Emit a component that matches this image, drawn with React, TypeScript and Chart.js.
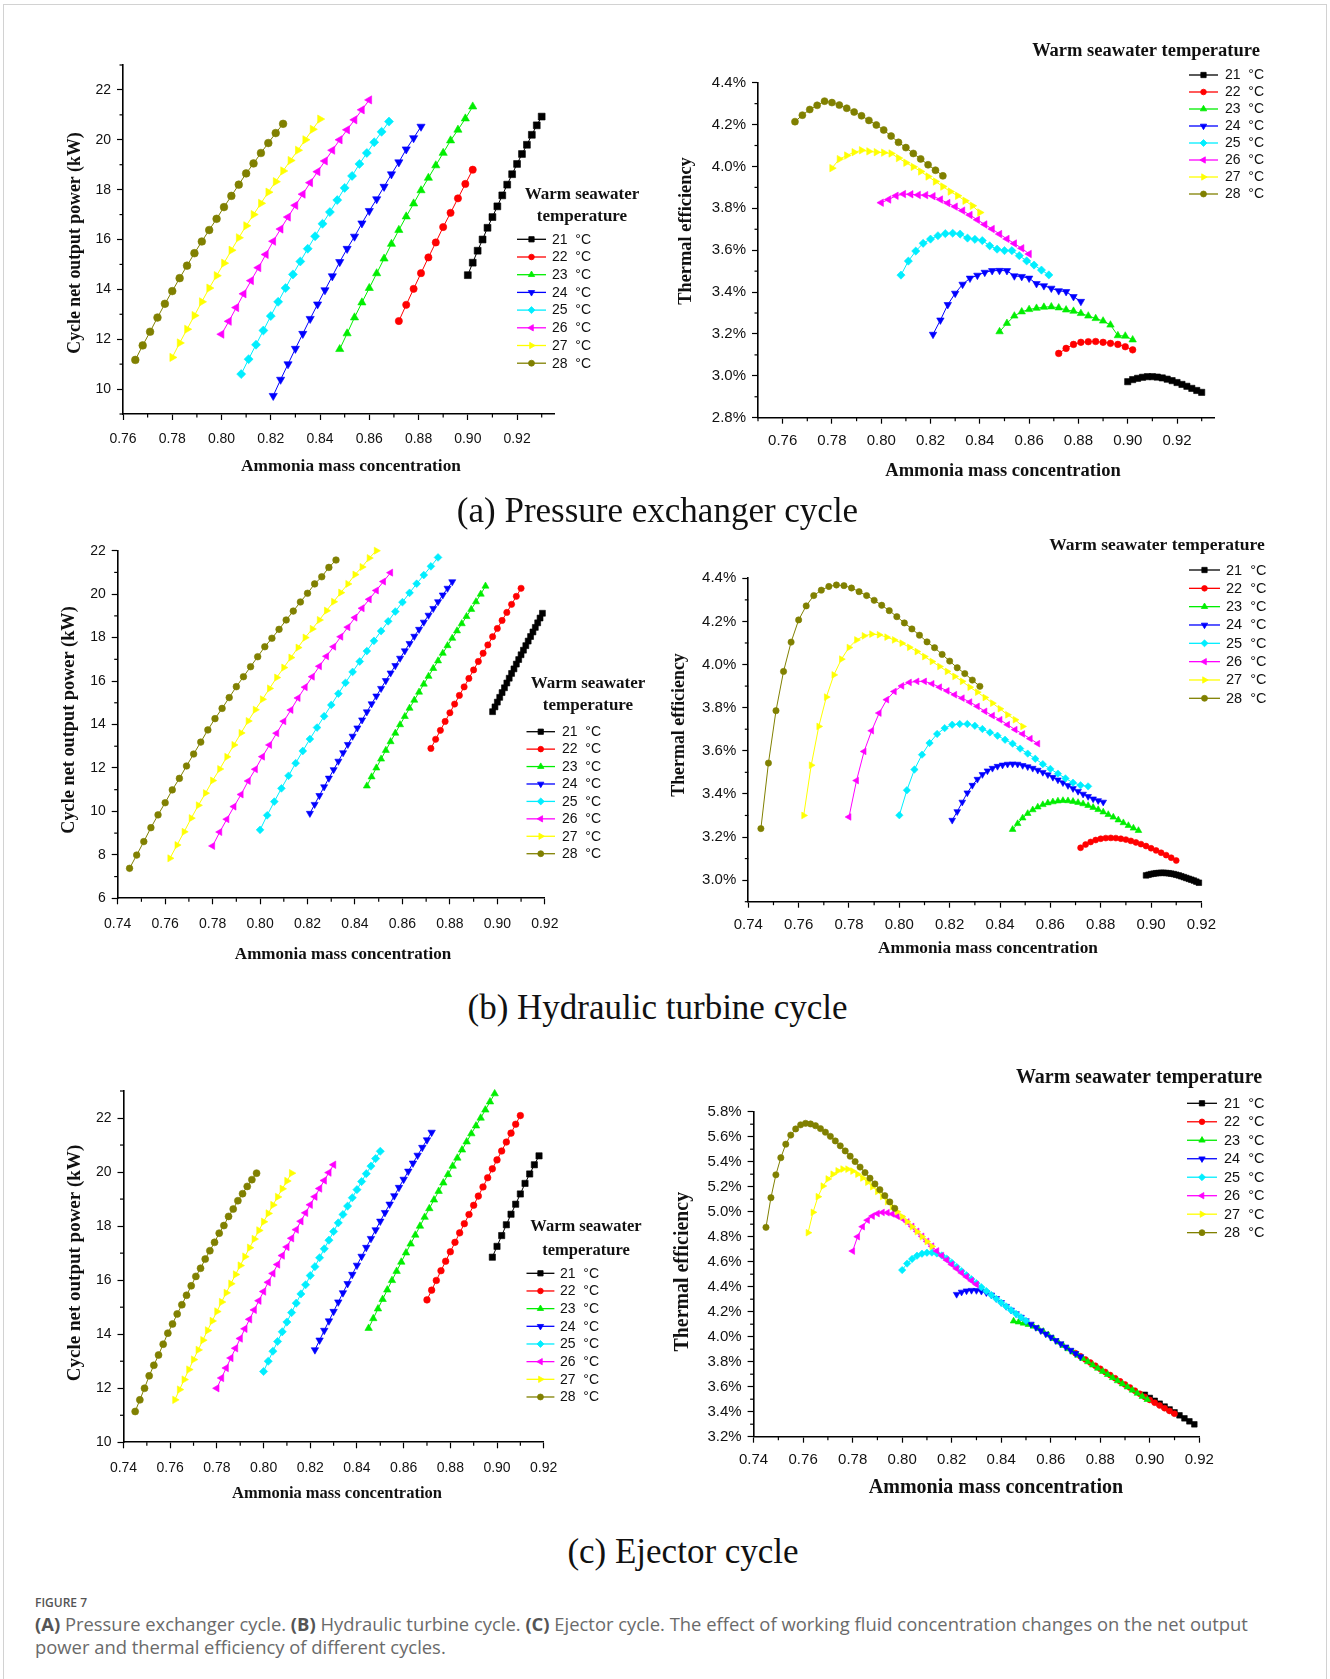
import React, { useEffect, useRef } from 'react';
import { Chart, registerables } from 'chart.js';

Chart.register(...registerables);

// ===================== DATA =====================
const TEMPS = ['21', '22', '23', '24', '25', '26', '27', '28'];

// ---- (a) Pressure exchanger cycle ----
const aX21 = [0.900, 0.902, 0.904, 0.906, 0.908, 0.910, 0.912, 0.914, 0.916, 0.918, 0.920, 0.922, 0.924, 0.926, 0.928, 0.930];
const aX22 = [0.872, 0.875, 0.878, 0.881, 0.884, 0.887, 0.890, 0.893, 0.896, 0.899, 0.902];
const aX23 = [0.848, 0.851, 0.854, 0.857, 0.860, 0.863, 0.866, 0.869, 0.872, 0.875, 0.878, 0.881, 0.884, 0.887, 0.890, 0.893, 0.896, 0.899, 0.902];
const aX24 = [0.821, 0.824, 0.827, 0.830, 0.833, 0.836, 0.839, 0.842, 0.845, 0.848, 0.851, 0.854, 0.857, 0.860, 0.863, 0.866, 0.869, 0.872, 0.875, 0.878, 0.881];
const aX25 = [0.808, 0.811, 0.814, 0.817, 0.820, 0.823, 0.826, 0.829, 0.832, 0.835, 0.838, 0.841, 0.844, 0.847, 0.850, 0.853, 0.856, 0.859, 0.862, 0.865, 0.868];
const aX26 = [0.800, 0.803, 0.806, 0.809, 0.812, 0.815, 0.818, 0.821, 0.824, 0.827, 0.830, 0.833, 0.836, 0.839, 0.842, 0.845, 0.848, 0.851, 0.854, 0.857, 0.860];
const aX27 = [0.780, 0.783, 0.786, 0.789, 0.792, 0.795, 0.798, 0.801, 0.804, 0.807, 0.810, 0.813, 0.816, 0.819, 0.822, 0.825, 0.828, 0.831, 0.834, 0.837, 0.840];
const aX28 = [0.765, 0.768, 0.771, 0.774, 0.777, 0.780, 0.783, 0.786, 0.789, 0.792, 0.795, 0.798, 0.801, 0.804, 0.807, 0.810, 0.813, 0.816, 0.819, 0.822, 0.825];

const aP21 = [14.57, 15.07, 15.55, 16.00, 16.47, 16.90, 17.33, 17.77, 18.20, 18.62, 19.03, 19.43, 19.80, 20.20, 20.58, 20.93];
const aP22 = [12.73, 13.38, 14.02, 14.65, 15.28, 15.88, 16.50, 17.07, 17.65, 18.23, 18.80];
const aP23 = [11.60, 12.23, 12.87, 13.47, 14.05, 14.64, 15.23, 15.82, 16.38, 16.92, 17.44, 17.97, 18.47, 18.97, 19.47, 19.97, 20.40, 20.85, 21.33];
const aP24 = [9.73, 10.38, 11.00, 11.62, 12.22, 12.82, 13.40, 13.97, 14.53, 15.10, 15.63, 16.12, 16.65, 17.15, 17.62, 18.12, 18.62, 19.10, 19.62, 20.07, 20.53];
const aP25 = [10.60, 11.20, 11.78, 12.35, 12.93, 13.50, 14.05, 14.60, 15.12, 15.63, 16.13, 16.63, 17.10, 17.58, 18.07, 18.55, 19.03, 19.47, 19.90, 20.32, 20.73];
const aP26 = [12.20, 12.72, 13.27, 13.82, 14.35, 14.87, 15.40, 15.93, 16.42, 16.90, 17.37, 17.82, 18.28, 18.72, 19.15, 19.58, 20.00, 20.40, 20.80, 21.20, 21.60];
const aP27 = [11.27, 11.85, 12.40, 12.95, 13.50, 14.05, 14.55, 15.05, 15.57, 16.07, 16.55, 17.00, 17.45, 17.90, 18.32, 18.75, 19.17, 19.58, 20.00, 20.42, 20.83];
const aP28 = [11.17, 11.75, 12.30, 12.87, 13.42, 13.93, 14.45, 14.95, 15.45, 15.92, 16.38, 16.83, 17.30, 17.75, 18.20, 18.65, 19.05, 19.47, 19.87, 20.27, 20.64];

const aE21 = [2.972, 2.982, 2.988, 2.993, 2.996, 2.996, 2.994, 2.990, 2.984, 2.977, 2.968, 2.959, 2.950, 2.940, 2.930, 2.921];
const aE22 = [3.107, 3.131, 3.150, 3.160, 3.163, 3.164, 3.160, 3.155, 3.150, 3.139, 3.124];
const aE23 = [3.211, 3.251, 3.286, 3.306, 3.317, 3.323, 3.328, 3.330, 3.325, 3.315, 3.309, 3.298, 3.286, 3.274, 3.262, 3.243, 3.192, 3.190, 3.172];
const aE24 = [3.198, 3.266, 3.340, 3.394, 3.437, 3.466, 3.480, 3.494, 3.502, 3.503, 3.502, 3.477, 3.474, 3.466, 3.440, 3.430, 3.418, 3.406, 3.402, 3.378, 3.355];
const aE25 = [3.481, 3.548, 3.596, 3.633, 3.653, 3.669, 3.679, 3.681, 3.677, 3.658, 3.652, 3.646, 3.621, 3.605, 3.598, 3.598, 3.574, 3.549, 3.529, 3.505, 3.482];
const aE26 = [3.827, 3.842, 3.860, 3.868, 3.867, 3.864, 3.863, 3.858, 3.842, 3.825, 3.808, 3.789, 3.768, 3.745, 3.723, 3.701, 3.677, 3.654, 3.632, 3.609, 3.582];
const aE27 = [3.992, 4.035, 4.052, 4.068, 4.077, 4.072, 4.068, 4.066, 4.062, 4.040, 4.018, 3.998, 3.976, 3.952, 3.928, 3.904, 3.880, 3.860, 3.836, 3.812, 3.780];
const aE28 = [4.214, 4.245, 4.272, 4.292, 4.312, 4.305, 4.293, 4.278, 4.260, 4.242, 4.220, 4.198, 4.174, 4.145, 4.115, 4.090, 4.062, 4.036, 4.008, 3.982, 3.955];

// ---- (b) Hydraulic turbine cycle ----
const bX21 = [0.898, 0.899, 0.900, 0.901, 0.902, 0.903, 0.904, 0.905, 0.906, 0.907, 0.908, 0.909, 0.910, 0.911, 0.912, 0.913, 0.914, 0.915, 0.916, 0.917, 0.918, 0.919];
const bX22 = [0.872, 0.874, 0.876, 0.878, 0.880, 0.882, 0.884, 0.886, 0.888, 0.890, 0.892, 0.894, 0.896, 0.898, 0.900, 0.902, 0.904, 0.906, 0.908, 0.910];
const bX23 = [0.845, 0.847, 0.849, 0.851, 0.853, 0.855, 0.857, 0.859, 0.861, 0.863, 0.865, 0.867, 0.869, 0.871, 0.873, 0.875, 0.877, 0.879, 0.881, 0.883, 0.885, 0.887, 0.889, 0.891, 0.893, 0.895];
const bX24 = [0.821, 0.823, 0.825, 0.827, 0.829, 0.831, 0.833, 0.835, 0.837, 0.839, 0.841, 0.843, 0.845, 0.847, 0.849, 0.851, 0.853, 0.855, 0.857, 0.859, 0.861, 0.863, 0.865, 0.867, 0.869, 0.871, 0.873, 0.875, 0.877, 0.879, 0.881];
const bX25 = [0.800, 0.803, 0.806, 0.809, 0.812, 0.815, 0.818, 0.821, 0.824, 0.827, 0.830, 0.833, 0.836, 0.839, 0.842, 0.845, 0.848, 0.851, 0.854, 0.857, 0.860, 0.863, 0.866, 0.869, 0.872, 0.875];
const bX26 = [0.780, 0.783, 0.786, 0.789, 0.792, 0.795, 0.798, 0.801, 0.804, 0.807, 0.810, 0.813, 0.816, 0.819, 0.822, 0.825, 0.828, 0.831, 0.834, 0.837, 0.840, 0.843, 0.846, 0.849, 0.852, 0.855];
const bX27 = [0.762, 0.765, 0.768, 0.771, 0.774, 0.777, 0.780, 0.783, 0.786, 0.789, 0.792, 0.795, 0.798, 0.801, 0.804, 0.807, 0.810, 0.813, 0.816, 0.819, 0.822, 0.825, 0.828, 0.831, 0.834, 0.837, 0.840, 0.843, 0.846, 0.849];
const bX28 = [0.745, 0.748, 0.751, 0.754, 0.757, 0.760, 0.763, 0.766, 0.769, 0.772, 0.775, 0.778, 0.781, 0.784, 0.787, 0.790, 0.793, 0.796, 0.799, 0.802, 0.805, 0.808, 0.811, 0.814, 0.817, 0.820, 0.823, 0.826, 0.829, 0.832];

const bP21 = [14.59, 14.81, 15.03, 15.25, 15.47, 15.69, 15.91, 16.13, 16.35, 16.56, 16.78, 16.99, 17.21, 17.42, 17.63, 17.84, 18.05, 18.26, 18.47, 18.68, 18.90, 19.12];
const bP22 = [12.90, 13.32, 13.73, 14.14, 14.54, 14.94, 15.34, 15.73, 16.12, 16.51, 16.90, 17.28, 17.66, 18.04, 18.42, 18.79, 19.16, 19.53, 19.90, 20.27];
const bP23 = [11.17, 11.59, 12.00, 12.41, 12.81, 13.21, 13.60, 13.99, 14.37, 14.75, 15.12, 15.49, 15.86, 16.22, 16.58, 16.93, 17.28, 17.63, 17.97, 18.31, 18.64, 18.97, 19.30, 19.65, 20.00, 20.37];
const bP24 = [9.91, 10.32, 10.73, 11.13, 11.53, 11.92, 12.31, 12.70, 13.08, 13.46, 13.84, 14.21, 14.58, 14.95, 15.31, 15.66, 16.02, 16.37, 16.71, 17.05, 17.39, 17.73, 18.06, 18.38, 18.71, 19.03, 19.34, 19.65, 19.96, 20.27, 20.57];
const bP25 = [9.15, 9.82, 10.45, 11.06, 11.64, 12.22, 12.78, 13.33, 13.86, 14.38, 14.90, 15.42, 15.92, 16.42, 16.90, 17.38, 17.85, 18.30, 18.75, 19.20, 19.63, 20.06, 20.48, 20.88, 21.28, 21.69];
const bP26 = [8.41, 9.05, 9.64, 10.22, 10.78, 11.40, 11.94, 12.52, 13.06, 13.60, 14.15, 14.67, 15.22, 15.72, 16.20, 16.68, 17.14, 17.58, 18.04, 18.48, 18.92, 19.35, 19.76, 20.17, 20.58, 20.99];
const bP27 = [7.84, 8.45, 9.06, 9.69, 10.28, 10.84, 11.42, 11.95, 12.51, 13.06, 13.61, 14.16, 14.68, 15.16, 15.66, 16.16, 16.62, 17.08, 17.54, 18.00, 18.40, 18.81, 19.24, 19.65, 20.07, 20.47, 20.90, 21.25, 21.66, 22.00];
const bP28 = [7.38, 7.99, 8.61, 9.25, 9.84, 10.40, 10.99, 11.52, 12.09, 12.64, 13.19, 13.75, 14.27, 14.74, 15.24, 15.74, 16.20, 16.66, 17.12, 17.58, 17.97, 18.38, 18.81, 19.22, 19.64, 20.04, 20.47, 20.80, 21.23, 21.57];

const bE21 = [3.022, 3.025, 3.028, 3.030, 3.032, 3.033, 3.034, 3.034, 3.033, 3.032, 3.030, 3.028, 3.025, 3.022, 3.018, 3.014, 3.010, 3.006, 3.002, 2.998, 2.993, 2.988];
const bE22 = [3.150, 3.165, 3.177, 3.186, 3.192, 3.195, 3.196, 3.195, 3.192, 3.188, 3.182, 3.175, 3.167, 3.158, 3.148, 3.138, 3.127, 3.116, 3.104, 3.091];
const bE23 = [3.235, 3.262, 3.288, 3.309, 3.326, 3.339, 3.350, 3.358, 3.363, 3.367, 3.369, 3.368, 3.365, 3.360, 3.354, 3.346, 3.337, 3.327, 3.316, 3.304, 3.292, 3.279, 3.266, 3.253, 3.241, 3.230];
const bE24 = [3.278, 3.318, 3.362, 3.405, 3.440, 3.468, 3.490, 3.507, 3.519, 3.528, 3.534, 3.538, 3.539, 3.538, 3.532, 3.526, 3.519, 3.510, 3.500, 3.489, 3.477, 3.465, 3.452, 3.439, 3.425, 3.412, 3.399, 3.388, 3.377, 3.369, 3.362];
const bE25 = [3.301, 3.417, 3.513, 3.582, 3.636, 3.678, 3.705, 3.721, 3.724, 3.724, 3.716, 3.701, 3.685, 3.670, 3.651, 3.633, 3.610, 3.587, 3.563, 3.538, 3.516, 3.494, 3.472, 3.452, 3.440, 3.435];
const bE26 = [3.293, 3.462, 3.597, 3.693, 3.775, 3.837, 3.875, 3.901, 3.917, 3.922, 3.922, 3.911, 3.895, 3.878, 3.860, 3.844, 3.826, 3.806, 3.783, 3.763, 3.744, 3.721, 3.698, 3.678, 3.656, 3.633];
const bE27 = [3.300, 3.533, 3.713, 3.849, 3.952, 4.025, 4.079, 4.114, 4.133, 4.141, 4.138, 4.127, 4.114, 4.099, 4.080, 4.060, 4.037, 4.014, 3.991, 3.968, 3.945, 3.922, 3.895, 3.872, 3.847, 3.821, 3.795, 3.767, 3.744, 3.713];
const bE28 = [3.239, 3.543, 3.786, 3.968, 4.104, 4.207, 4.272, 4.320, 4.345, 4.362, 4.369, 4.366, 4.355, 4.338, 4.320, 4.298, 4.275, 4.250, 4.222, 4.193, 4.165, 4.136, 4.105, 4.078, 4.047, 4.016, 3.985, 3.958, 3.928, 3.899];

// ---- (c) Ejector cycle ----
const cX21 = [0.898, 0.900, 0.902, 0.904, 0.906, 0.908, 0.910, 0.912, 0.914, 0.916, 0.918];
const cX22 = [0.870, 0.872, 0.874, 0.876, 0.878, 0.880, 0.882, 0.884, 0.886, 0.888, 0.890, 0.892, 0.894, 0.896, 0.898, 0.900, 0.902, 0.904, 0.906, 0.908, 0.910];
const cX23 = [0.845, 0.847, 0.849, 0.851, 0.853, 0.855, 0.857, 0.859, 0.861, 0.863, 0.865, 0.867, 0.869, 0.871, 0.873, 0.875, 0.877, 0.879, 0.881, 0.883, 0.885, 0.887, 0.889, 0.891, 0.893, 0.895, 0.897, 0.899];
const cX24 = [0.822, 0.824, 0.826, 0.828, 0.830, 0.832, 0.834, 0.836, 0.838, 0.840, 0.842, 0.844, 0.846, 0.848, 0.850, 0.852, 0.854, 0.856, 0.858, 0.860, 0.862, 0.864, 0.866, 0.868, 0.870, 0.872];
const cX25 = [0.800, 0.802, 0.804, 0.806, 0.808, 0.810, 0.812, 0.814, 0.816, 0.818, 0.820, 0.822, 0.824, 0.826, 0.828, 0.830, 0.832, 0.834, 0.836, 0.838, 0.840, 0.842, 0.844, 0.846, 0.848, 0.850];
const cX26 = [0.780, 0.782, 0.784, 0.786, 0.788, 0.790, 0.792, 0.794, 0.796, 0.798, 0.800, 0.802, 0.804, 0.806, 0.808, 0.810, 0.812, 0.814, 0.816, 0.818, 0.820, 0.822, 0.824, 0.826, 0.828, 0.830];
const cX27 = [0.762, 0.764, 0.766, 0.768, 0.770, 0.772, 0.774, 0.776, 0.778, 0.780, 0.782, 0.784, 0.786, 0.788, 0.790, 0.792, 0.794, 0.796, 0.798, 0.800, 0.802, 0.804, 0.806, 0.808, 0.810, 0.812];
const cX28 = [0.745, 0.747, 0.749, 0.751, 0.753, 0.755, 0.757, 0.759, 0.761, 0.763, 0.765, 0.767, 0.769, 0.771, 0.773, 0.775, 0.777, 0.779, 0.781, 0.783, 0.785, 0.787, 0.789, 0.791, 0.793, 0.795, 0.797];

const cP21 = [16.85, 17.25, 17.65, 18.05, 18.44, 18.81, 19.19, 19.58, 19.93, 20.27, 20.60];
const cP22 = [15.27, 15.63, 15.99, 16.35, 16.70, 17.05, 17.40, 17.75, 18.09, 18.43, 18.77, 19.11, 19.45, 19.79, 20.12, 20.45, 20.78, 21.11, 21.44, 21.77, 22.09];
const cP23 = [14.22, 14.58, 14.94, 15.29, 15.64, 15.99, 16.33, 16.67, 17.01, 17.34, 17.67, 18.00, 18.33, 18.65, 18.97, 19.29, 19.60, 19.91, 20.22, 20.52, 20.82, 21.12, 21.42, 21.71, 22.00, 22.30, 22.60, 22.90];
const cP24 = [13.42, 13.78, 14.14, 14.49, 14.84, 15.19, 15.53, 15.87, 16.21, 16.55, 16.88, 17.21, 17.54, 17.86, 18.18, 18.50, 18.81, 19.12, 19.43, 19.73, 20.03, 20.33, 20.62, 20.91, 21.19, 21.47];
const cP25 = [12.62, 13.00, 13.37, 13.73, 14.09, 14.45, 14.80, 15.15, 15.49, 15.83, 16.17, 16.50, 16.83, 17.16, 17.48, 17.80, 18.12, 18.43, 18.74, 19.05, 19.35, 19.65, 19.94, 20.22, 20.50, 20.77];
const cP26 = [12.00, 12.38, 12.75, 13.12, 13.48, 13.84, 14.20, 14.55, 14.90, 15.24, 15.58, 15.92, 16.25, 16.58, 16.91, 17.23, 17.55, 17.87, 18.18, 18.49, 18.79, 19.09, 19.39, 19.69, 19.98, 20.27];
const cP27 = [11.57, 11.95, 12.32, 12.69, 13.06, 13.42, 13.78, 14.14, 14.49, 14.84, 15.19, 15.53, 15.87, 16.21, 16.54, 16.87, 17.20, 17.52, 17.84, 18.16, 18.47, 18.78, 19.08, 19.38, 19.67, 19.96];
const cP28 = [11.14, 11.57, 12.00, 12.46, 12.85, 13.23, 13.63, 14.04, 14.38, 14.75, 15.09, 15.44, 15.79, 16.14, 16.44, 16.78, 17.09, 17.40, 17.74, 18.02, 18.36, 18.63, 18.94, 19.20, 19.47, 19.72, 19.96];

const cE21 = [3.535, 3.510, 3.487, 3.464, 3.441, 3.418, 3.395, 3.371, 3.347, 3.323, 3.299];
const cE22 = [3.868, 3.843, 3.818, 3.793, 3.768, 3.743, 3.718, 3.693, 3.668, 3.643, 3.618, 3.593, 3.568, 3.543, 3.518, 3.494, 3.472, 3.450, 3.428, 3.406, 3.384];
const cE23 = [4.125, 4.117, 4.108, 4.097, 4.083, 4.065, 4.042, 4.015, 3.985, 3.957, 3.930, 3.903, 3.877, 3.851, 3.825, 3.799, 3.773, 3.747, 3.722, 3.697, 3.672, 3.647, 3.622, 3.597, 3.572, 3.547, 3.522, 3.497];
const cE24 = [4.339, 4.357, 4.367, 4.371, 4.370, 4.364, 4.352, 4.334, 4.306, 4.274, 4.243, 4.213, 4.184, 4.156, 4.128, 4.101, 4.074, 4.048, 4.022, 3.996, 3.970, 3.944, 3.918, 3.892, 3.866, 3.840];
const cE25 = [4.533, 4.585, 4.622, 4.648, 4.664, 4.672, 4.673, 4.666, 4.650, 4.625, 4.593, 4.559, 4.525, 4.492, 4.460, 4.428, 4.396, 4.365, 4.334, 4.303, 4.272, 4.242, 4.212, 4.183, 4.155, 4.127];
const cE26 = [4.685, 4.800, 4.880, 4.932, 4.965, 4.985, 4.994, 4.992, 4.982, 4.965, 4.945, 4.918, 4.882, 4.843, 4.803, 4.763, 4.724, 4.686, 4.649, 4.613, 4.578, 4.544, 4.511, 4.479, 4.448, 4.418];
const cE27 = [4.832, 4.995, 5.120, 5.205, 5.262, 5.300, 5.327, 5.341, 5.340, 5.325, 5.300, 5.270, 5.236, 5.200, 5.162, 5.122, 5.080, 5.040, 5.000, 4.960, 4.920, 4.880, 4.840, 4.800, 4.761, 4.722];
const cE28 = [4.875, 5.112, 5.295, 5.432, 5.540, 5.613, 5.662, 5.695, 5.707, 5.702, 5.688, 5.665, 5.636, 5.603, 5.566, 5.527, 5.486, 5.444, 5.401, 5.357, 5.313, 5.268, 5.222, 5.176, 5.128, 5.078, 5.027];

// ---- tick values ----
const aXTicks = [0.76, 0.78, 0.80, 0.82, 0.84, 0.86, 0.88, 0.90, 0.92];
const bcXTicks = [0.74, 0.76, 0.78, 0.80, 0.82, 0.84, 0.86, 0.88, 0.90, 0.92];
const aPowerYTicks = [10, 12, 14, 16, 18, 20, 22];
const aEffYTicks = [2.8, 3.0, 3.2, 3.4, 3.6, 3.8, 4.0, 4.2, 4.4];
const bPowerYTicks = [6, 8, 10, 12, 14, 16, 18, 20, 22];
const bEffYTicks = [3.0, 3.2, 3.4, 3.6, 3.8, 4.0, 4.2, 4.4];
const cPowerYTicks = [10, 12, 14, 16, 18, 20, 22];
const cEffYTicks = [3.2, 3.4, 3.6, 3.8, 4.0, 4.2, 4.4, 4.6, 4.8, 5.0, 5.2, 5.4, 5.6, 5.8];

// ===================== STYLE =====================
const SANS = '"Liberation Sans", Arial, sans-serif';
const SERIF = '"Liberation Serif", "Times New Roman", serif';

const SERIES_STYLE = [
  { color: '#000000', style: 'rect', rot: 0, r: 4.4 },
  { color: '#ff0000', style: 'circle', rot: 0, r: 3.3 },
  { color: '#00ee00', style: 'triangle', rot: 0, r: 4.3 },
  { color: '#0000ff', style: 'triangle', rot: 180, r: 4.3 },
  { color: '#00eeff', style: 'rectRot', rot: 0, r: 4.1 },
  { color: '#ff00ff', style: 'triangle', rot: 270, r: 4.3 },
  { color: '#ffff00', style: 'triangle', rot: 90, r: 4.3 },
  { color: '#808000', style: 'circle', rot: 0, r: 3.5 },
];

const pct = (v: number) => v.toFixed(1) + '%';
const int = (v: number) => String(Math.round(v));
const fx2 = (v: number) => v.toFixed(2);

const PANELS: any[] = [
  {
    id: 'aL', box: { l: 20, t: 40, w: 660, h: 450 }, area: { x0: 123, y0: 65, x1: 554, y1: 414 },
    xMin: 0.76, xMax: 0.935, yMin: 9, yMax: 23, xTicks: aXTicks, yTicks: aPowerYTicks, xMinor: 0.01, yMinor: 1, yFmt: int,
    xs: [aX21, aX22, aX23, aX24, aX25, aX26, aX27, aX28], ys: [aP21, aP22, aP23, aP24, aP25, aP26, aP27, aP28],
    tickSize: 14, xPad: 11, xTitle: { text: 'Ammonia mass concentration', x: 351, y: 467, size: 17.3 },
    yTitle: { text: 'Cycle net output power (kW)', x: 75, y: 243, size: 17.8 },
    legTitle: { lines: ['Warm seawater', 'temperature'], x: 582, ys: [195, 217], size: 17 },
    leg: { y0: 239.3, dy: 17.7, lx0: 517, lx1: 546, tx: 552, size: 14 }, mk: 1.1,
  },
  {
    id: 'aR', box: { l: 640, t: 25, w: 685, h: 465 }, area: { x0: 758, y0: 82.7, x1: 1214, y1: 417.7 },
    xMin: 0.75, xMax: 0.935, yMin: 2.8, yMax: 4.4, xTicks: aXTicks, yTicks: aEffYTicks, xMinor: 0.01, yMinor: 0.1, yFmt: pct,
    xs: [aX21, aX22, aX23, aX24, aX25, aX26, aX27, aX28], ys: [aE21, aE22, aE23, aE24, aE25, aE26, aE27, aE28],
    tickSize: 15, xPad: 8, xTitle: { text: 'Ammonia mass concentration', x: 1003, y: 471.7, size: 18.5 },
    yTitle: { text: 'Thermal efficiency', x: 686.5, y: 231, size: 18.4 },
    legTitle: { lines: ['Warm seawater temperature'], x: 1146, ys: [51.7], size: 18.5 },
    leg: { y0: 75, dy: 17.0, lx0: 1189, lx1: 1218, tx: 1225, size: 14 }, mk: 1.0,
  },
  {
    id: 'bL', box: { l: 20, t: 530, w: 660, h: 450 }, area: { x0: 117.7, y0: 550.7, x1: 544.8, y1: 898.3 },
    xMin: 0.74, xMax: 0.92, yMin: 6, yMax: 22, xTicks: bcXTicks, yTicks: bPowerYTicks, xMinor: 0.01, yMinor: 1, yFmt: int,
    xs: [bX21, bX22, bX23, bX24, bX25, bX26, bX27, bX28], ys: [bP21, bP22, bP23, bP24, bP25, bP26, bP27, bP28],
    tickSize: 14, xPad: 11, xTitle: { text: 'Ammonia mass concentration', x: 343, y: 955, size: 17 },
    yTitle: { text: 'Cycle net output power (kW)', x: 69, y: 720, size: 18.3 },
    legTitle: { lines: ['Warm seawater', 'temperature'], x: 588, ys: [684, 705.7], size: 17 },
    leg: { y0: 731.7, dy: 17.43, lx0: 526.5, lx1: 555, tx: 562, size: 14 }, mk: 0.95,
  },
  {
    id: 'bR', box: { l: 640, t: 520, w: 685, h: 460 }, area: { x0: 748.3, y0: 578.3, x1: 1201.4, y1: 901.7 },
    xMin: 0.74, xMax: 0.92, yMin: 2.9, yMax: 4.4, xTicks: bcXTicks, yTicks: bEffYTicks, xMinor: 0.01, yMinor: 0.1, yFmt: pct,
    xs: [bX21, bX22, bX23, bX24, bX25, bX26, bX27, bX28], ys: [bE21, bE22, bE23, bE24, bE25, bE26, bE27, bE28],
    tickSize: 15, xPad: 8, xTitle: { text: 'Ammonia mass concentration', x: 988, y: 948.3, size: 17.3 },
    yTitle: { text: 'Thermal efficiency', x: 679, y: 725, size: 17.9 },
    legTitle: { lines: ['Warm seawater temperature'], x: 1157, ys: [545], size: 17.5 },
    leg: { y0: 570, dy: 18.33, lx0: 1189, lx1: 1220, tx: 1226, size: 14.5 }, mk: 0.9,
  },
  {
    id: 'cL', box: { l: 20, t: 1070, w: 660, h: 440 }, area: { x0: 123.5, y0: 1091, x1: 543.7, y1: 1442.3 },
    xMin: 0.74, xMax: 0.92, yMin: 10, yMax: 23, xTicks: bcXTicks, yTicks: cPowerYTicks, xMinor: 0.01, yMinor: 1, yFmt: int,
    xs: [cX21, cX22, cX23, cX24, cX25, cX26, cX27, cX28], ys: [cP21, cP22, cP23, cP24, cP25, cP26, cP27, cP28],
    tickSize: 14, xPad: 11, xTitle: { text: 'Ammonia mass concentration', x: 337, y: 1493.3, size: 16.5 },
    yTitle: { text: 'Cycle net output power (kW)', x: 75, y: 1263, size: 19 },
    legTitle: { lines: ['Warm seawater', 'temperature'], x: 586, ys: [1226.7, 1251], size: 16.5 },
    leg: { y0: 1273.3, dy: 17.67, lx0: 526.5, lx1: 554.4, tx: 560, size: 14 }, mk: 1.0,
  },
  {
    id: 'cR', box: { l: 640, t: 1060, w: 685, h: 450 }, area: { x0: 753.6, y0: 1111.7, x1: 1199.3, y1: 1436.7 },
    xMin: 0.74, xMax: 0.92, yMin: 3.2, yMax: 5.8, xTicks: bcXTicks, yTicks: cEffYTicks, xMinor: 0.01, yMinor: 0.1, yFmt: pct,
    xs: [cX21, cX22, cX23, cX24, cX25, cX26, cX27, cX28], ys: [cE21, cE22, cE23, cE24, cE25, cE26, cE27, cE28],
    tickSize: 15, xPad: 8, xTitle: { text: 'Ammonia mass concentration', x: 996, y: 1488.3, size: 20 },
    yTitle: { text: 'Thermal efficiency', x: 683, y: 1271.7, size: 19.9 },
    legTitle: { lines: ['Warm seawater temperature'], x: 1139, ys: [1077.7], size: 20 },
    leg: { y0: 1103.3, dy: 18.48, lx0: 1187, lx1: 1217, tx: 1224, size: 14.5 }, mk: 0.9,
  },
];

// ===================== DRAWING =====================
function drawMarker(ctx: CanvasRenderingContext2D, style: string, rotDeg: number, x: number, y: number, r: number) {
  ctx.beginPath();
  if (style === 'circle') {
    ctx.arc(x, y, r, 0, Math.PI * 2);
  } else if (style === 'rect') {
    const s = Math.SQRT1_2 * r;
    ctx.rect(x - s, y - s, 2 * s, 2 * s);
  } else if (style === 'rectRot') {
    ctx.moveTo(x - r, y); ctx.lineTo(x, y - r); ctx.lineTo(x + r, y); ctx.lineTo(x, y + r); ctx.closePath();
  } else {
    let a = (rotDeg * Math.PI) / 180;
    ctx.moveTo(x + Math.sin(a) * r, y - Math.cos(a) * r);
    a += (2 * Math.PI) / 3;
    ctx.lineTo(x + Math.sin(a) * r, y - Math.cos(a) * r);
    a += (2 * Math.PI) / 3;
    ctx.lineTo(x + Math.sin(a) * r, y - Math.cos(a) * r);
    ctx.closePath();
  }
  ctx.fill();
  ctx.stroke();
}

const overlayPlugin = {
  id: 'overlay',
  afterDraw(chart: any, _args: any, opts: any) {
    const p = opts.panel;
    if (!p) return;
    const ctx: CanvasRenderingContext2D = chart.ctx;
    const ox = p.box.l, oy = p.box.t;
    const xs = chart.scales.x, ys = chart.scales.y;
    ctx.save();
    // minor ticks
    ctx.strokeStyle = '#000';
    ctx.lineWidth = 1.2;
    const xStep = p.xTicks[1] - p.xTicks[0];
    for (let v = p.xTicks[0] - xStep / 2; v <= p.xMax + 1e-9; v += xStep) {
      if (v < p.xMin - 1e-9) continue;
      const px = xs.getPixelForValue(v);
      ctx.beginPath(); ctx.moveTo(px, ys.bottom); ctx.lineTo(px, ys.bottom + 3.5); ctx.stroke();
    }
    const yStep = p.yTicks[1] - p.yTicks[0];
    for (let v = p.yTicks[0] - yStep / 2; v <= p.yMax + 1e-9; v += yStep) {
      if (v < p.yMin - 1e-9) continue;
      const py = ys.getPixelForValue(v);
      ctx.beginPath(); ctx.moveTo(xs.left, py); ctx.lineTo(xs.left - 3.5, py); ctx.stroke();
    }
    // axis titles
    ctx.fillStyle = '#111';
    ctx.textAlign = 'center';
    ctx.textBaseline = 'middle';
    ctx.font = `bold ${p.xTitle.size}px ${SERIF}`;
    ctx.fillText(p.xTitle.text, p.xTitle.x - ox, p.xTitle.y - oy);
    ctx.save();
    ctx.translate(p.yTitle.x - ox, p.yTitle.y - oy);
    ctx.rotate(-Math.PI / 2);
    ctx.font = `bold ${p.yTitle.size}px ${SERIF}`;
    ctx.fillText(p.yTitle.text, 0, 0);
    ctx.restore();
    // legend title
    ctx.font = `bold ${p.legTitle.size}px ${SERIF}`;
    p.legTitle.lines.forEach((t: string, i: number) => ctx.fillText(t, p.legTitle.x - ox, p.legTitle.ys[i] - oy));
    // legend rows
    ctx.textAlign = 'left';
    ctx.font = `${p.leg.size}px ${SANS}`;
    TEMPS.forEach((t, i) => {
      const st = SERIES_STYLE[i];
      const y = p.leg.y0 + i * p.leg.dy - oy;
      ctx.strokeStyle = st.color;
      ctx.fillStyle = st.color;
      ctx.lineWidth = 1.3;
      ctx.beginPath(); ctx.moveTo(p.leg.lx0 - ox, y); ctx.lineTo(p.leg.lx1 - ox, y); ctx.stroke();
      ctx.lineWidth = 0.8;
      drawMarker(ctx, st.style, st.rot, (p.leg.lx0 + p.leg.lx1) / 2 - ox, y, st.r * 0.85);
      ctx.fillStyle = '#111';
      ctx.fillText(`${t}  °C`, p.leg.tx - ox, y + 0.5);
    });
    ctx.restore();
  },
};

function makeConfig(p: any) {
  const datasets = TEMPS.map((t, i) => {
    const st = SERIES_STYLE[i];
    return {
      label: `${t} °C`,
      data: p.xs[i].map((x: number, j: number) => ({ x, y: p.ys[i][j] })),
      showLine: true,
      borderColor: st.color,
      backgroundColor: st.color,
      borderWidth: 1,
      pointStyle: st.style,
      rotation: st.rot,
      pointRadius: st.r * p.mk,
      pointBorderWidth: 0.6,
      pointBorderColor: st.color,
      pointBackgroundColor: st.color,
      order: 7 - i,
      clip: false,
    };
  });
  const gridOpts = { drawOnChartArea: false, drawTicks: true, tickLength: 6, tickColor: '#000', tickWidth: 1.2 };
  const borderOpts = { display: true, color: '#000', width: 1.6 };
  return {
    type: 'scatter',
    data: { datasets },
    plugins: [overlayPlugin],
    options: {
      animation: false,
      responsive: false,
      maintainAspectRatio: false,
      events: [],
      layout: {
        padding: {
          left: 0,
          bottom: 0,
          top: p.area.y0 - p.box.t,
          right: p.box.l + p.box.w - p.area.x1,
        },
      },
      plugins: {
        legend: { display: false },
        tooltip: { enabled: false },
        title: { display: false },
        overlay: { panel: p },
      },
      scales: {
        x: {
          type: 'linear',
          min: p.xMin,
          max: p.xMax,
          afterBuildTicks: (s: any) => { s.ticks = p.xTicks.map((v: number) => ({ value: v })); },
          afterFit: (s: any) => { s.height = p.box.t + p.box.h - p.area.y1; },
          grid: gridOpts,
          border: borderOpts,
          ticks: {
            color: '#111', autoSkip: false, maxRotation: 0, padding: p.xPad,
            font: { family: SANS, size: p.tickSize },
            callback: (v: any) => fx2(Number(v)),
          },
        },
        y: {
          type: 'linear',
          min: p.yMin,
          max: p.yMax,
          afterBuildTicks: (s: any) => { s.ticks = p.yTicks.map((v: number) => ({ value: v })); },
          afterFit: (s: any) => { s.width = p.area.x0 - p.box.l; },
          grid: gridOpts,
          border: borderOpts,
          ticks: {
            color: '#111', autoSkip: false, padding: 6,
            font: { family: SANS, size: p.tickSize },
            callback: (v: any) => p.yFmt(Number(v)),
          },
        },
      },
    },
  };
}

function PanelChart({ p }: { p: any }) {
  const ref = useRef<HTMLCanvasElement | null>(null);
  useEffect(() => {
    if (!ref.current) return;
    const chart = new Chart(ref.current, makeConfig(p) as any);
    return () => chart.destroy();
  }, [p]);
  return (
    <canvas
      ref={ref}
      width={p.box.w}
      height={p.box.h}
      style={{ position: 'absolute', left: p.box.l, top: p.box.t, width: p.box.w, height: p.box.h }}
    />
  );
}

const CAPTIONS = [
  { text: '(a) Pressure exchanger cycle', x: 657.5, y: 510 },
  { text: '(b) Hydraulic turbine cycle', x: 657.5, y: 1006.6 },
  { text: '(c) Ejector cycle', x: 683, y: 1551 },
];

export default function App() {
  return (
    <div style={{ position: 'absolute', left: 0, top: 0, width: 1330, height: 1679, background: '#fff', overflow: 'hidden' }}>
      <div
        style={{
          position: 'absolute', left: 3, top: 4, width: 1324, height: 1720, boxSizing: 'border-box',
          borderTop: '1px solid #d2d2d2', borderLeft: '1px solid #d2d2d2', borderRight: '1px solid #d2d2d2',
        }}
      />
      {PANELS.map((p) => (
        <PanelChart key={p.id} p={p} />
      ))}
      {CAPTIONS.map((c) => (
        <div
          key={c.text}
          style={{
            position: 'absolute', left: c.x, top: c.y, transform: 'translate(-50%, -50%)',
            font: `35px ${SERIF}`, color: '#111', whiteSpace: 'nowrap', lineHeight: 1,
          }}
        >
          {c.text}
        </div>
      ))}
      <div
        style={{
          position: 'absolute', left: 35, top: 1594, font: '600 12px "Open Sans", sans-serif',
          color: '#555', whiteSpace: 'nowrap', lineHeight: '18px',
        }}
      >
        FIGURE 7
      </div>
      <div
        style={{
          position: 'absolute', left: 35, top: 1611.5, font: '18.4px "Open Sans", sans-serif',
          color: '#6a6a6a', whiteSpace: 'nowrap', lineHeight: '23.5px',
        }}
      >
        <b style={{ color: '#555' }}>(A)</b> Pressure exchanger cycle. <b style={{ color: '#555' }}>(B)</b> Hydraulic turbine cycle.{' '}
        <b style={{ color: '#555' }}>(C)</b> Ejector cycle. The effect of working fluid concentration changes on the net output
        <br />
        power and thermal efficiency of different cycles.
      </div>
    </div>
  );
}
